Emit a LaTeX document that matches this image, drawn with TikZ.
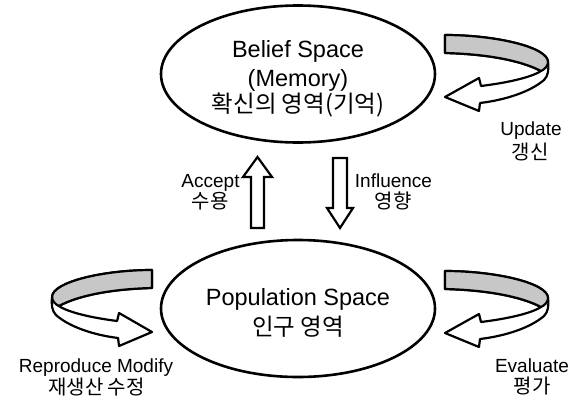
\documentclass[tikz,border=0pt]{standalone}
\usepackage{fontspec}
\setmainfont{Liberation Sans}
\newfontfamily\krfont{Noto Sans CJK KR}
\usetikzlibrary{shapes.geometric}
\tikzset{
  spaceell/.style={draw, line width=2.6pt, ellipse, minimum width=274pt, minimum height=137pt, inner sep=0pt},
  blockarrow/.style={draw, fill=white, line width=2.2pt, line join=miter},
  bigtxt/.style={inner sep=0pt, font=\fontsize{23.5}{27}\selectfont},
  bigkr/.style={inner sep=0pt, font=\krfont\fontsize{23.5}{27}\selectfont},
  smalltxt/.style={inner sep=0pt, font=\fontsize{19}{21}\selectfont},
  smallkr/.style={inner sep=0pt, font=\krfont\fontsize{20}{22}\selectfont},
  curl/.pic={
    \draw[line width=2.2pt, line join=round, fill=white]
      (0,0) .. controls (50,0) and (103,12) .. (103,27)
      .. controls (104,35) and (103,41) .. (99,45)
      .. controls (85,57) and (60,65) .. (35,68)
      -- (34,76) -- (0,62) -- (34,43) -- (36,51)
      .. controls (60,48) and (85,43) .. (96,36)
      .. controls (75,25) and (40,19) .. (0,18) -- cycle;
    \draw[line width=2.2pt, line join=round, fill=black!22]
      (0,0) .. controls (50,0) and (103,12) .. (103,27)
      .. controls (103,31) and (100,34) .. (96,36)
      .. controls (75,25) and (40,19) .. (0,18) -- cycle;
  }
}
\begin{document}
\begin{tikzpicture}[x=1pt,y=-1pt]
  \useasboundingbox (0,0) rectangle (577,399);
  \fill[white] (0,0) rectangle (577,399);

  % ellipses
  \node[spaceell] (belief) at (298,74) {};
  \node[spaceell] (population) at (298,308.5) {};

  % ellipse texts
  \node[bigtxt, anchor=base] (bl1) at (298,57) {Belief Space};
  \node[bigtxt, anchor=base] (bl2) at (298,86) {(Memory)};
  \node[bigkr] (bl3) at (298,105) {확신의 영역(기억)};
  \node[bigtxt, anchor=base] (pl1) at (298,305) {Population Space};
  \node[bigkr] (pl2) at (298,327) {인구 영역};

  % block arrows between the spaces
  \coordinate (acctip) at (257.5,157);
  \coordinate (inftop) at (340,158);
  \draw[blockarrow] (251,228) -- (251,177) -- (243,177) -- (acctip) -- (272,177) -- (264,177) -- (264,228) -- cycle;
  \draw[blockarrow] (inftop) ++(-7,0) -- ++(14,0) -- (347,208) -- (353,208) -- (340,228) -- (327,208) -- (333,208) -- cycle;

  % curled arrows
  \pic (upd) at (445,35) {curl};
  \pic (eva) at (445,271) {curl};
  \pic[xscale=-0.97] (rep) at (152,270) {curl};

  % labels
  \node[smalltxt, anchor=base] (acc) at (210.5,187) {Accept};
  \node[smallkr] (acckr) at (210,201) {수용};
  \node[smalltxt, anchor=base] (inf) at (393.5,187) {Influence};
  \node[smallkr] (infkr) at (393,201) {영향};
  \node[smalltxt, anchor=base] (upl) at (531,135) {Update};
  \node[smallkr] (upkr) at (530,152) {갱신};
  \node[smalltxt, anchor=base] (evl) at (532,372) {Evaluate};
  \node[smallkr] (evkr) at (532,386) {평가};
  \node[smalltxt, anchor=base] (rpl) at (96,372) {Reproduce Modify};
  \node[smallkr] (rpkr) at (96.5,387) {재생산 수정};
\end{tikzpicture}
\end{document}
